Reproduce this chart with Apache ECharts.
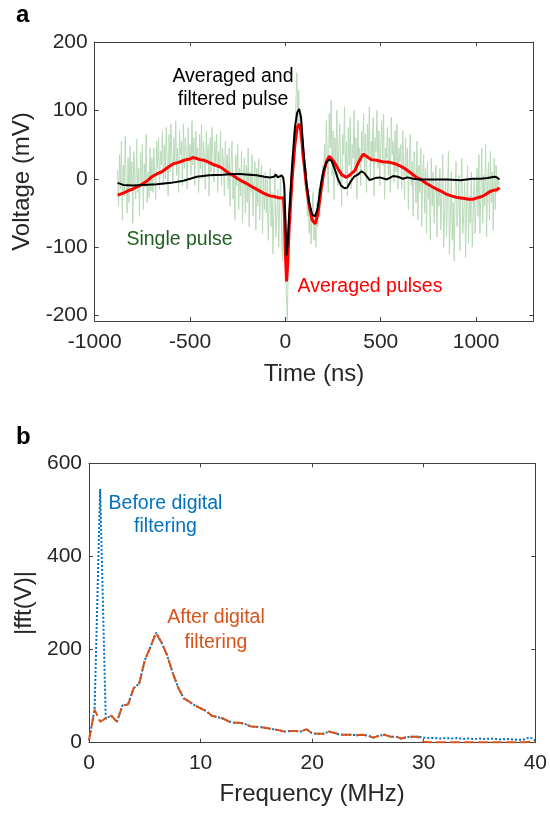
<!DOCTYPE html>
<html>
<head>
<meta charset="utf-8">
<script src="https://cdn.jsdelivr.net/npm/echarts@6/dist/echarts.min.js"></script>
<style>
  html, body { margin: 0; padding: 0; background: #fff; }
  #chart { width: 550px; height: 814px; }
</style>
</head>
<body>
<div id="chart"></div>
<script>
// ---- Panel a: time-domain pulses ----
// single recorded pulse, sampled every 5 ns from -880 ns
const singleStart = -880;
const singleStep = 5;
const singlePulse = [
  12, -40, 35, -15, 55, -60, 20, -25, 62, -5, -50, 30, -35, 48, -10, 25, -65, 40, 5, -30,
  58, -20, 15, -55, 38, -8, 50, -45, 22, -12, 65, -35, 10, -28, 45, -18,
  30, -20, 45, 5, -30, 55, 15, 60, -15, 40, 20, 70, -10, 50, 0, 75, 25, -25, 65, 10,
  80, 30, -5, 60, 20, 85, 5, 45, -20, 70, 35, 55, -10, 80, 15, 60, 40, -15, 75, 25,
  50, 5, 85, 20, 60, -10, 70, 30, 45, -20, 65, 15, 80, 0, 55, 35, -15, 70, 25, 50,
  -25, 60, 10, 75, 30, -5, 55, 20, 65, -20, 40, 15, 70, -10, 45, 25, -25, 55, 5, 35,
  -15, 45, -40, 20, 55, -30, 5, -60, 35, -10, 50, -45, 15, -25, 40, -65, 0, 30, -50, 20,
  -35, 45, -70, 10, -20, 35, -55, -5, 25, -75, 15, -40, 30, -60, -10, 20, -80, 5, -45, 10,
  -50, 0, -90, -30, 15, -70, -20, -110, -40, 10, -85, -55, -15, -100, -35, 5, -75, -120, -45, -60,
  -100, -170, -207, -130, -90, -40, -60, 10, 30, 70, 40, 110, 155, 80, 130, 60, 95, 30, 55, 10, 25,
  -20, 15, -55, -30, -80, -40, -95, -50, -20, -90, -60, -100, -35, -70, -15, -55, 0, -30, 20, -10,
  50, 10, 85, 30, -20, 95, 45, 115, 5, 70, -30, 60, 25, 100, -10, 40, 80, 15, -40, 65,
  35, 105, 0, 55, -25, 75, 20, 90, -15, 50, 30, 100, 10, 60, -30, 85, 20, 45, -10, 70,
  40, 95, 10, 65, -20, 80, 30, 105, 0, 55, 25, 90, -25, 60, 40, 100, 15, 70, -10, 50,
  85, 20, 95, -30, 45, 30, 75, 5, 60, -20, 90, 35, 55, -5, 70, 10, 80, -15, 45, 25,
  50, -15, 70, 20, -30, 60, 0, 45, -45, 30, 65, -10, 25, -55, 40, 10, -35, 55, -60, 20,
  -20, 45, -70, 5, 35, -50, 15, -80, 25, -30, 0, -90, 30, -40, 10, -65, -15, 20, -85, -5,
  -40, 15, -75, -25, 35, -100, -50, 0, -85, -20, 40, -110, -60, 10, -90, -35, -120, -15, 25, -70,
  -45, 5, -105, -30, 30, -80, -55, -5, -115, -40, 20, -95, -25, -65, 10, -100, -50, 0, -80, -35,
  15, -55, 35, -80, -20, 45, -65, 5, -40, 50, -85, -10, 25, -60, 40, -35, 10, -75, 30, -45,
  20, -20, 0, -10
];

// average of many pulses
const avgTime = [
  -880, -850, -820, -800, -780, -762, -740, -720, -700, -674, -650, -630, -610, -587, -560, -540,
  -520, -500, -485, -470, -448, -425, -400, -380, -360, -340, -320, -305, -291, -270, -250, -230,
  -203, -180, -160, -140, -116, -100, -80, -60, -46, -30, -20, -10, -4, 0, 6, 12, 20, 35, 50, 62,
  72, 82, 95, 110, 125, 140, 156, 170, 185, 200, 215, 230, 240, 255, 275, 295, 320, 340, 364, 385,
  407, 425, 450, 477, 510, 547, 575, 600, 620, 640, 665, 687, 710, 740, 765, 792, 815, 840, 870,
  896, 920, 940, 960, 983, 1005, 1030, 1050, 1071, 1090, 1110, 1123
];
const avgPulses = [
  -24, -21, -17, -15, -12, -10, -6, -2, 3, 7, 10, 14, 18, 22, 24, 26,
  28, 29, 31, 30, 28, 27, 24, 21, 19, 17, 13, 10, 7, 4, 0, -3,
  -7, -11, -14, -17, -21, -23, -25, -26, -27, -28, -28, -28, -60, -110, -150, -125, -70, 0, 50, 75,
  80, 70, 30, -10, -40, -60, -66, -52, -20, 8, 25, 33, 34, 25, 15, 6, 2, 6, 12, 25,
  36, 33, 28, 27, 25, 24, 22, 19, 16, 12, 7, 2, -1, -7, -11, -15, -18, -22, -25,
  -27, -28, -29, -30, -30, -28, -26, -23, -19, -17, -16, -13
];

// averaged and digitally filtered pulse
const filtTime = [
  -880, -850, -800, -750, -674, -600, -535, -500, -465, -400, -326, -280, -238, -190, -151, -110,
  -81, -60, -50, -40, -30, -20, -12, -6, 0, 6, 12, 20, 35, 50, 62, 72, 82, 95, 110, 125, 140, 156,
  170, 185, 200, 215, 230, 242, 258, 275, 292, 310, 324, 340, 360, 380, 399, 415, 442, 470, 495,
  532, 565, 590, 617, 640, 670, 705, 760, 850, 920, 980, 1025, 1060, 1097, 1110, 1123
];
const filtPulse = [
  -6, -9, -10, -9, -8, -6, -3, 0, 3, 5, 6, 7, 7, 6, 5, 3,
  2, 3, 6, 2, 4, 5, 2, -10, -60, -112, -95, -50, 20, 75, 97, 102, 90, 40, -5, -35, -52, -55,
  -42, -10, 12, 24, 28, 26, 15, 0, -10, -14, -13, -5, 3, 6, 11, 8, -2, 1, 2,
  -1, 4, 3, 0, 2, 0, -1, -1, -1, -2, 0, 0, 1, 3, 2, -1
];

// ---- Panel b: spectra, bins every 0.5 MHz from 0 MHz ----
const freqStep = 0.5;
const fftBefore = [
  5, 71, 545, 52, 58, 45, 80, 82, 117, 127, 177, 205, 236, 215, 188, 150, 118, 95, 88, 80,
  74, 68, 58, 55, 52, 46, 43, 43, 40, 35, 34, 33, 31, 29, 27, 24, 25, 25, 24, 29,
  20, 19, 19, 24, 21, 17, 17, 17, 16, 17, 15, 11, 15, 17, 13, 13, 9, 12, 13, 13,
  11, 10, 10, 9, 10, 9, 10, 8, 9, 8, 9, 8, 9, 8, 7, 8, 7, 6, 7, 12, 5
];
const fftAfter = [
  5, 71, 45, 52, 58, 45, 80, 82, 117, 127, 177, 205, 236, 215, 188, 150, 118, 95, 88, 80,
  74, 68, 58, 55, 52, 46, 43, 43, 40, 35, 34, 33, 31, 29, 27, 24, 25, 25, 24, 29,
  20, 19, 19, 24, 21, 17, 17, 17, 16, 17, 15, 11, 15, 17, 13, 13, 9, 12, 13, 13,
  2, 1, 1, 1, 1, 1, 1, 1, 1, 1, 1, 1, 1, 1, 1, 1, 1, 1, 1, 2, 1
];

// tick labels
const timeTicks = [-1000, -500, 0, 500, 1000];
const voltTicks = [-200, -100, 0, 100, 200];
const freqTicks = [0, 10, 20, 30, 40];
const fftTicks = [0, 200, 400, 600];

const FONT = 'Arial, "Liberation Sans", Helvetica, sans-serif';
const TXT = '#262626';
const AX = '#404040';

const singleData = singlePulse.map((v, i) => [singleStart + i * singleStep, v]);
const avgData = avgTime.map((t, i) => [t, avgPulses[i]]);
const filtData = filtTime.map((t, i) => [t, filtPulse[i]]);
const beforeData = fftBefore.map((v, i) => [i * freqStep, v]);
const afterData = fftAfter.map((v, i) => [i * freqStep, v]);

function axis(opts) {
  const ticks = opts.ticks;
  const main = !!opts.main;
  return {
    type: 'value',
    gridIndex: opts.grid,
    position: opts.position,
    min: opts.min,
    max: opts.max,
    interval: opts.interval,
    axisLine: { show: true, onZero: false, lineStyle: { color: AX, width: 1 } },
    axisTick: { show: true, inside: true, length: 4, customValues: ticks, lineStyle: { color: AX, width: 1 } },
    splitLine: { show: false },
    axisLabel: {
      show: main,
      customValues: ticks,
      formatter: (v) => String(v),
      color: TXT,
      fontSize: 21,
      fontFamily: FONT,
      margin: opts.margin
    },
    name: main ? opts.name : '',
    nameLocation: 'middle',
    nameGap: opts.nameGap,
    nameTextStyle: { color: TXT, fontSize: 24, fontFamily: FONT }
  };
}

const option = {
  animation: false,
  backgroundColor: '#ffffff',
  grid: [
    { left: 94.7, right: 16.7, top: 42, bottom: 493, containLabel: false },
    { left: 89, right: 14.3, top: 463.3, bottom: 71.3, containLabel: false }
  ],
  xAxis: [
    axis({ grid: 0, position: 'bottom', min: -1000, max: 1300, interval: 500, ticks: timeTicks, main: true, margin: 11, name: 'Time (ns)', nameGap: 41 }),
    axis({ grid: 0, position: 'top', min: -1000, max: 1300, interval: 500, ticks: timeTicks }),
    axis({ grid: 1, position: 'bottom', min: 0, max: 40, interval: 10, ticks: freqTicks, main: true, margin: 10, name: 'Frequency (MHz)', nameGap: 40 }),
    axis({ grid: 1, position: 'top', min: 0, max: 40, interval: 10, ticks: freqTicks })
  ],
  yAxis: [
    axis({ grid: 0, position: 'left', min: -208, max: 200, ticks: voltTicks, main: true, margin: 7, name: 'Voltage (mV)', nameGap: 52 }),
    axis({ grid: 0, position: 'right', min: -208, max: 200, ticks: voltTicks }),
    axis({ grid: 1, position: 'left', min: 0, max: 600, interval: 200, ticks: fftTicks, main: true, margin: 7, name: '|fft(V)|', nameGap: 44 }),
    axis({ grid: 1, position: 'right', min: 0, max: 600, interval: 200, ticks: fftTicks })
  ],
  series: [
    {
      name: 'Single pulse', type: 'line', xAxisIndex: 0, yAxisIndex: 0,
      data: singleData, showSymbol: false, symbol: 'none',
      lineStyle: { color: '#b9dab9', width: 1 }, z: 1
    },
    {
      name: 'Averaged pulses', type: 'line', xAxisIndex: 0, yAxisIndex: 0,
      data: avgData, showSymbol: false, symbol: 'none',
      lineStyle: { color: '#ff0000', width: 3 }, z: 2
    },
    {
      name: 'Averaged and filtered pulse', type: 'line', xAxisIndex: 0, yAxisIndex: 0,
      data: filtData, showSymbol: false, symbol: 'none',
      lineStyle: { color: '#000000', width: 2 }, z: 3
    },
    {
      name: 'Before digital filtering', type: 'line', xAxisIndex: 2, yAxisIndex: 2,
      data: beforeData, showSymbol: false, symbol: 'none',
      lineStyle: { color: '#0072BD', width: 2, type: [2, 2] }, z: 2
    },
    {
      name: 'After digital filtering', type: 'line', xAxisIndex: 2, yAxisIndex: 2,
      data: afterData, showSymbol: false, symbol: 'none',
      lineStyle: { color: '#D95319', width: 2, type: [10, 4] }, z: 3
    }
  ],
  graphic: [
    { type: 'text', x: 16, y: 15, style: { text: 'a', fill: '#000', font: 'bold 24px ' + FONT, align: 'left', verticalAlign: 'middle' } },
    { type: 'text', x: 16, y: 437, style: { text: 'b', fill: '#000', font: 'bold 24px ' + FONT, align: 'left', verticalAlign: 'middle' } },
    { type: 'text', x: 233, y: 88.5, z: 10, style: { text: 'Averaged and\nfiltered pulse', fill: '#000000', font: '19.5px ' + FONT, lineHeight: 23, align: 'center', verticalAlign: 'middle' } },
    { type: 'text', x: 179.5, y: 240, z: 10, style: { text: 'Single pulse', fill: '#1f5f1f', font: '19.5px ' + FONT, align: 'center', verticalAlign: 'middle' } },
    { type: 'text', x: 370, y: 287, z: 10, style: { text: 'Averaged pulses', fill: '#ff0000', font: '19.5px ' + FONT, align: 'center', verticalAlign: 'middle' } },
    { type: 'text', x: 165.5, y: 515.5, z: 10, style: { text: 'Before digital\nfiltering', fill: '#0072BD', font: '19.5px ' + FONT, lineHeight: 23, align: 'center', verticalAlign: 'middle' } },
    { type: 'text', x: 216, y: 630.5, z: 10, style: { text: 'After digital\nfiltering', fill: '#D95319', font: '19.5px ' + FONT, lineHeight: 25, align: 'center', verticalAlign: 'middle' } }
  ]
};

const chart = echarts.init(document.getElementById('chart'), null, { renderer: 'canvas', width: 550, height: 814 });
chart.setOption(option);
</script>
</body>
</html>
